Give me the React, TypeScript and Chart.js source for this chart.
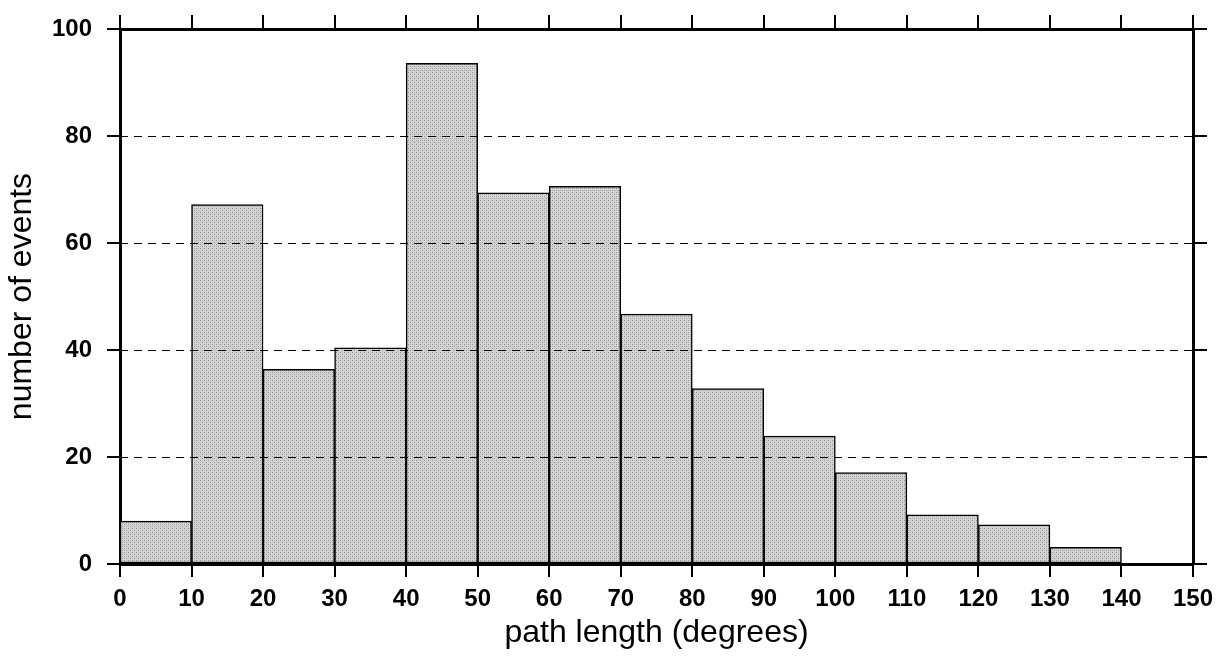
import React, { useEffect, useRef } from "react";
import { Chart, registerables } from "chart.js";

Chart.register(...registerables);

const binStarts = [0, 10, 20, 30, 40, 50, 60, 70, 80, 90, 100, 110, 120, 130];
const binWidth = 10;
const counts = [8, 67.2, 36.4, 40.4, 93.6, 69.4, 70.6, 46.7, 32.8, 23.9, 17.1, 9.2, 7.3, 3.1];
const xTicks = [0, 10, 20, 30, 40, 50, 60, 70, 80, 90, 100, 110, 120, 130, 140, 150];
const yTicks = [0, 20, 40, 60, 80, 100];
const dashedLevels = [20, 40, 60, 80];

const FONT = "'Liberation Sans', Arial, Helvetica, sans-serif";

const dashedGridPlugin = {
  id: "dashedGrid",
  afterDatasetsDraw(chart: any) {
    const { ctx, chartArea, scales } = chart;
    ctx.save();
    ctx.strokeStyle = "#000";
    ctx.lineWidth = 1.2;
    ctx.setLineDash([8, 6]);
    dashedLevels.forEach((v) => {
      const y = Math.round(scales.y.getPixelForValue(v)) + 0.5;
      ctx.beginPath();
      ctx.moveTo(chartArea.left, y);
      ctx.lineTo(chartArea.right, y);
      ctx.stroke();
    });
    ctx.restore();
  },
};

function makeStipple(): CanvasPattern | string {
  const c = document.createElement("canvas");
  c.width = 4;
  c.height = 4;
  const g = c.getContext("2d");
  if (!g) return "#c8c8c8";
  g.fillStyle = "#d4d4d4";
  g.fillRect(0, 0, 4, 4);
  g.fillStyle = "#959595";
  g.fillRect(0, 0, 1, 1);
  g.fillRect(2, 2, 1, 1);
  g.fillStyle = "#b8b8b8";
  g.fillRect(2, 0, 1, 1);
  g.fillRect(0, 2, 1, 1);
  const p = g.createPattern(c, "repeat");
  return p || "#c8c8c8";
}

export default function App() {
  const ref = useRef<HTMLCanvasElement>(null);
  useEffect(() => {
    if (!ref.current) return;
    const data = binStarts.map((s, i) => ({ x: s + binWidth / 2, y: counts[i] }));
    const tickGrid = {
      display: true,
      drawOnChartArea: false,
      drawTicks: true,
      offset: false,
      tickLength: 13,
      color: "#000",
      lineWidth: 2,
    };
    const border = { display: true, color: "#000", width: 3 };
    const chart = new Chart(ref.current, {
      type: "bar",
      data: {
        datasets: [
          {
            data,
            backgroundColor: makeStipple(),
            borderColor: "#000",
            borderWidth: 1.5,
            barPercentage: 1,
            categoryPercentage: 1,
            borderSkipped: false,
          },
        ],
      },
      options: {
        animation: false,
        responsive: false,
        maintainAspectRatio: false,
        layout: { padding: 0 },
        plugins: { legend: { display: false }, tooltip: { enabled: false } },
        scales: {
          x: {
            type: "linear",
            position: "bottom",
            min: 0,
            max: 150,
            offset: false,
            grid: tickGrid,
            border,
            afterBuildTicks: (s: any) => {
              s.ticks = xTicks.map((v) => ({ value: v }));
            },
            ticks: {
              color: "#000",
              font: { family: FONT, size: 24, weight: "bold" },
              padding: 8,
              maxRotation: 0,
              autoSkip: false,
            },
            title: {
              display: true,
              text: "path length (degrees)",
              color: "#000",
              font: { family: FONT, size: 32 },
              padding: { top: 0, bottom: 7 },
            },
            afterFit: (s: any) => {
              s.height = 95;
              s.paddingLeft = 0;
              s.paddingRight = 0;
            },
          },
          x2: {
            type: "linear",
            position: "top",
            min: 0,
            max: 150,
            offset: false,
            grid: { ...tickGrid, tickLength: 14 },
            border,
            afterBuildTicks: (s: any) => {
              s.ticks = xTicks.map((v) => ({ value: v }));
            },
            ticks: { display: false },
            afterFit: (s: any) => {
              s.height = 29;
              s.paddingLeft = 0;
              s.paddingRight = 0;
            },
          },
          y: {
            type: "linear",
            position: "left",
            min: 0,
            max: 100,
            grid: tickGrid,
            border,
            afterBuildTicks: (s: any) => {
              s.ticks = yTicks.map((v) => ({ value: v }));
            },
            ticks: {
              color: "#000",
              font: { family: FONT, size: 24, weight: "bold" },
              padding: 15,
            },
            title: {
              display: true,
              text: "number of events",
              color: "#000",
              font: { family: FONT, size: 32 },
              padding: { top: 3, bottom: 0 },
            },
            afterFit: (s: any) => {
              s.width = 120;
              s.paddingTop = 0;
              s.paddingBottom = 0;
            },
          },
          y2: {
            type: "linear",
            position: "right",
            min: 0,
            max: 100,
            grid: { ...tickGrid, tickLength: 14 },
            border,
            afterBuildTicks: (s: any) => {
              s.ticks = yTicks.map((v) => ({ value: v }));
            },
            ticks: { display: false },
            afterFit: (s: any) => {
              s.width = 25;
              s.paddingTop = 0;
              s.paddingBottom = 0;
            },
          },
        },
      } as any,
      plugins: [dashedGridPlugin],
    });
    return () => chart.destroy();
  }, []);
  return (
    <div style={{ position: "fixed", left: 0, top: 0, width: 1218, height: 659, background: "#fff" }}>
      <canvas ref={ref} width={1218} height={659} style={{ width: 1218, height: 659, display: "block" }} />
    </div>
  );
}
